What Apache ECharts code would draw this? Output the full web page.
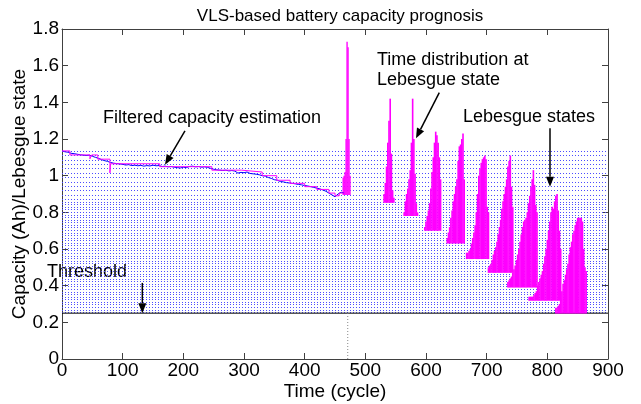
<!DOCTYPE html>
<html><head><meta charset="utf-8">
<script src="https://cdn.jsdelivr.net/npm/echarts/dist/echarts.min.js"></script>
<style>html,body{margin:0;padding:0;background:#fff}#c{width:641px;height:404px}</style>
</head><body><div id="c"></div>
<script>
// ---- data ----
const blueCycles = [0,5,10,15,20,25,30,35,40,45,50,55,60,65,70,75,80,85,90,95,100,105,110,115,120,125,130,135,140,145,150,155,160,165,170,175,180,185,190,195,200,205,210,215,220,225,230,235,240,245,250,255,260,265,270,275,280,285,290,295,300,305,310,315,320,325,330,335,340,345,350,355,360,365,370,375,380,385,390,395,400,405,410,415,420,425,430,435,440,445,450,452,455,460,465];
const blueCapacity = [1.135,1.13,1.128,1.122,1.12,1.117,1.114,1.112,1.11,1.112,
  1.106,1.10,1.095,1.088,1.082,1.078,1.072,1.068,1.066,1.064,
  1.062,1.058,1.06,1.055,1.057,1.054,1.056,1.052,1.055,1.053,
  1.057,1.054,1.055,1.05,1.052,1.048,1.05,1.046,1.044,1.042,
  1.046,1.044,1.05,1.052,1.048,1.05,1.046,1.048,1.045,1.04,
  1.035,1.032,1.03,1.028,1.03,1.026,1.028,1.025,1.014,1.018,
  1.016,1.02,1.012,1.01,1.008,1.005,1.0,0.998,0.99,0.985,
  0.978,0.975,0.968,0.966,0.962,0.96,0.958,0.955,0.952,0.95,
  0.946,0.944,0.94,0.936,0.932,0.928,0.922,0.915,0.905,0.895,
  0.885,0.878,0.9,0.91,0.905];
const stepCycles = [0,13,46,49,59,79,80,161,247,296,330,354,376,400,420,440,450,457,466];
const stepLevels = [1.135,1.113,1.092,1.113,1.09,1.015,1.065,1.049,1.03,1.02,1.0,0.975,0.958,0.94,0.925,0.905,0.89,0.905,0.9];
const levelsUpper = [1.136,1.112,1.088,1.064,1.04,1.016,0.992,0.968,0.944,0.92,0.896,0.872];
const levelsLower = [0.858,0.844,0.830,0.816,0.802,0.788,0.774,0.760,0.746,0.732,0.718,0.704,0.690,0.676,0.662,0.648,0.634,0.620,0.606,0.592,0.578,0.564,0.550,0.536,0.522,0.508,0.494,0.480,0.466,0.452,0.438,0.424,0.410,0.396,0.382,0.368,0.354,0.340,0.326,0.312,0.298,0.284,0.270,0.258];
const thresholdLevel = 0.25;
const failureCycle = 471;
const histStart = [463.5,531,564,598,635,667,703,735,770,814];
const histBinWidth = [1.6,2,2,2,2,2,2,2,2,2];
const histBase = [0.895,0.852,0.78,0.70,0.63,0.545,0.47,0.39,0.318,0.248];
const histTops = [
  [0.99,1.0,1.02,1.2,1.73,1.70,1.2,1.0],
  [0.90,0.96,1.05,1.18,1.30,1.42,1.12,0.92,0.88],
  [0.80,0.86,0.90,0.93,0.98,1.03,1.18,1.42,1.20,1.01,0.85,0.80],
  [0.72,0.75,0.78,0.81,0.85,0.93,1.02,1.10,1.18,1.24,1.22,1.18,1.10,0.98],
  [0.66,0.69,0.72,0.77,0.81,0.86,0.90,0.94,0.98,1.08,1.16,1.17,1.20,1.23,0.98],
  [0.58,0.58,0.59,0.60,0.63,0.66,0.69,0.73,0.80,0.90,1.00,1.04,1.07,1.09,1.10,1.11,1.09,0.83,0.80],
  [0.50,0.51,0.52,0.54,0.57,0.59,0.61,0.64,0.68,0.72,0.76,0.82,0.86,0.90,0.94,0.98,1.05,1.08,1.11,0.94,0.83],
  [0.42,0.43,0.44,0.45,0.47,0.49,0.51,0.54,0.57,0.60,0.64,0.68,0.72,0.75,0.76,0.77,0.80,0.85,0.89,0.94,0.98,1.03,0.95,0.84,0.80],
  [0.34,0.34,0.34,0.34,0.35,0.36,0.37,0.40,0.42,0.44,0.46,0.48,0.52,0.56,0.60,0.65,0.70,0.75,0.80,0.83,0.82,0.86,0.89,0.90,0.81,0.70,0.60],
  [0.28,0.28,0.29,0.30,0.33,0.37,0.41,0.43,0.46,0.49,0.52,0.57,0.61,0.64,0.68,0.70,0.73,0.75,0.77,0.77,0.77,0.77,0.75,0.60,0.50,0.48]
];
const arrowFromX = [202.7,621.9,804.4,132.4];
const arrowFromY = [1.244,1.453,1.259,0.415];
const arrowToX = [169.8,583.5,804.4,132.4];
const arrowToY = [1.06,1.204,0.94,0.25];

// ---- chart ----
const FONT = '"Liberation Sans", Arial, Helvetica, sans-serif';
const X_MIN = 0, X_MAX = 900, Y_MIN = 0, Y_MAX = 1.8;

const histData = [];
histTops.forEach((tops, i) => {
  tops.forEach((t, j) => histData.push([histStart[i] + j * histBinWidth[i], histBase[i], t, histBinWidth[i]]));
});
const levelData = levelsUpper.concat(levelsLower).map(v => [X_MIN, v]);
const arrowData = arrowFromX.map((x, i) => [x, arrowFromY[i], arrowToX[i], arrowToY[i]]);

const axisCommon = {
  type: 'value', nameMoveOverlap: false,
  axisLine: {show: true, onZero: false, lineStyle: {color: '#404040', width: 1}},
  axisTick: {show: true, inside: true, length: 6, lineStyle: {color: '#404040'}},
  splitLine: {show: false}
};

const chart = echarts.init(document.getElementById('c'), null, {renderer: 'canvas'});
chart.setOption({
  animation: false,
  backgroundColor: '#fff',
  title: {text: 'VLS-based battery capacity prognosis', left: 335, top: 3, textAlign: 'center',
    textStyle: {fontFamily: FONT, fontSize: 17, fontWeight: 'normal', color: '#000'}},
  grid: {left: 62, right: 33, top: 29, bottom: 45, containLabel: false, outerBoundsMode: 'none'},
  xAxis: [
    Object.assign({}, axisCommon, {position: 'bottom', min: X_MIN, max: X_MAX, interval: 100,
      name: 'Time (cycle)', nameLocation: 'middle', nameGap: 23,
      nameTextStyle: {fontFamily: FONT, fontSize: 19, color: '#000'},
      axisLabel: {margin: 2, fontFamily: FONT, fontSize: 19, color: '#000'}}),
    Object.assign({}, axisCommon, {position: 'top', min: X_MIN, max: X_MAX, interval: 100, axisLabel: {show: false}})
  ],
  yAxis: [
    Object.assign({}, axisCommon, {position: 'left', min: Y_MIN, max: Y_MAX, interval: 0.2,
      name: 'Capacity (Ah)/Lebesgue state', nameLocation: 'middle', nameGap: 33,
      nameTextStyle: {fontFamily: FONT, fontSize: 19, color: '#000'},
      axisLabel: {margin: 3, fontFamily: FONT, fontSize: 19, color: '#000'}}),
    Object.assign({}, axisCommon, {position: 'right', min: Y_MIN, max: Y_MAX, interval: 0.2, axisLabel: {show: false}})
  ],
  graphic: [
    {type: 'text', x: 103, y: 118, style: {text: 'Filtered capacity estimation', font: '18px ' + FONT, fill: '#000', textVerticalAlign: 'middle'}},
    {type: 'text', x: 377, y: 60, style: {text: 'Time distribution at', font: '18px ' + FONT, fill: '#000', textVerticalAlign: 'middle'}},
    {type: 'text', x: 377, y: 80, style: {text: 'Lebesgue state', font: '18px ' + FONT, fill: '#000', textVerticalAlign: 'middle'}},
    {type: 'text', x: 463, y: 117, style: {text: 'Lebesgue states', font: '18px ' + FONT, fill: '#000', textVerticalAlign: 'middle'}},
    {type: 'text', x: 47, y: 272, style: {text: 'Threshold', font: '18px ' + FONT, fill: '#000', textVerticalAlign: 'middle'}}
  ],
  series: [
    {
      type: 'custom', z: 1, silent: true, data: levelData, encode: {x: 0, y: 1},
      renderItem: function (params, api) {
        const v = api.value(1);
        const a = api.coord([X_MIN, v]), b = api.coord([X_MAX, v]);
        const y = Math.round(a[1]) + 0.5;
        return {type: 'line', shape: {x1: a[0], y1: y, x2: b[0], y2: y},
          style: {stroke: '#4d4dff', lineWidth: 1, lineDash: [1, 2]}};
      }
    },
    {
      type: 'line', z: 2, silent: true, symbol: 'none',
      data: [[X_MIN, thresholdLevel], [X_MAX, thresholdLevel]],
      lineStyle: {color: '#000', width: 1}
    },
    {
      type: 'line', z: 2, silent: true, symbol: 'none',
      data: [[failureCycle, Y_MIN], [failureCycle, thresholdLevel]],
      lineStyle: {color: '#888', width: 1, type: [1, 2]}
    },
    {
      type: 'custom', z: 3, silent: true, data: histData, encode: {x: 0, y: [1, 2]},
      renderItem: function (params, api) {
        const x = api.value(0), b = api.value(1), t = api.value(2), w = api.value(3);
        const p1 = api.coord([x - w / 2, t]), p2 = api.coord([x + w / 2, b]);
        return {type: 'rect', shape: {x: p1[0] - 0.2, y: p1[1], width: p2[0] - p1[0] + 0.4, height: p2[1] - p1[1]},
          style: {fill: '#ff00ff'}};
      }
    },
    {
      type: 'line', z: 5, silent: true, symbol: 'none',
      data: blueCycles.map((x, i) => [x, blueCapacity[i]]),
      lineStyle: {color: '#0000ff', width: 1}
    },
    {
      type: 'line', z: 6, silent: true, symbol: 'none', step: 'end',
      data: stepCycles.map((x, i) => [x, stepLevels[i]]),
      lineStyle: {color: '#ff00ff', width: 1}
    },
    {
      type: 'custom', z: 7, silent: true, data: arrowData, encode: {x: [0, 2], y: [1, 3]},
      renderItem: function (params, api) {
        const p = api.coord([api.value(0), api.value(1)]), q = api.coord([api.value(2), api.value(3)]);
        const dx = q[0] - p[0], dy = q[1] - p[1], L = Math.hypot(dx, dy), ux = dx / L, uy = dy / L;
        const hl = 10, hw = 4;
        const bx = q[0] - ux * hl, by = q[1] - uy * hl;
        return {type: 'group', children: [
          {type: 'line', shape: {x1: p[0], y1: p[1], x2: bx, y2: by}, style: {stroke: '#000', lineWidth: 1.5}},
          {type: 'polygon', shape: {points: [[q[0], q[1]], [bx - uy * hw, by + ux * hw], [bx + uy * hw, by - ux * hw]]}, style: {fill: '#000'}}
        ]};
      }
    }
  ]
});
</script></body></html>
